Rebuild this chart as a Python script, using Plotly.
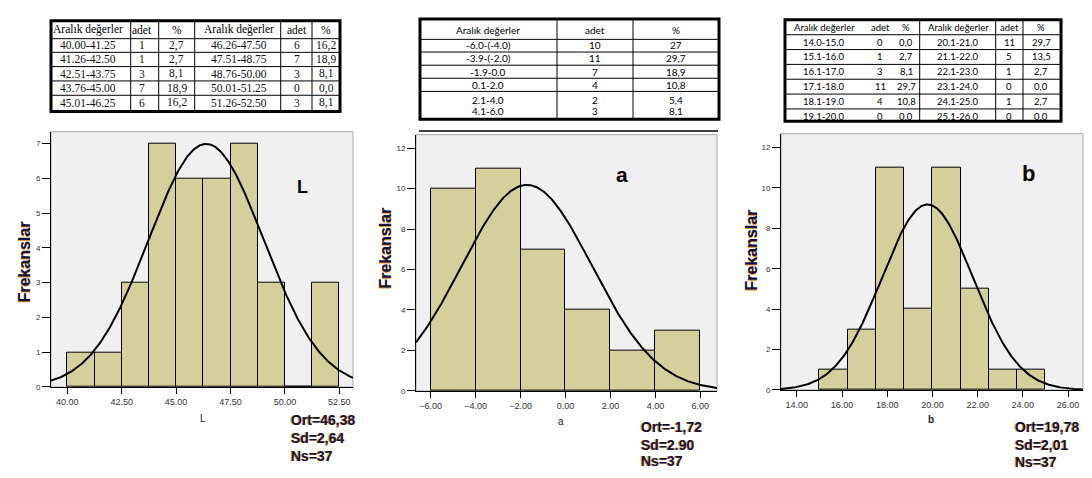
import numpy as np
import plotly.graph_objects as go

W, H = 1092, 478

# ---------------- data ----------------
# Histogram L
L_bin_start = [40.00, 41.25, 42.50, 43.75, 45.00, 46.25, 47.50, 48.75, 50.00, 51.25]
L_counts = [1, 1, 3, 7, 6, 6, 7, 3, 0, 3]
L_bin_width = 1.25
L_mean, L_sd, L_n = 46.38, 2.64, 37
L_ticks = [40.0, 42.5, 45.0, 47.5, 50.0, 52.5]

# Histogram a
a_bin_start = [-6.0, -4.0, -2.0, 0.0, 2.0, 4.0]
a_counts = [10, 11, 7, 4, 2, 3]
a_bin_width = 2.0
a_mean, a_sd, a_n = -1.72, 2.90, 37
a_ticks = [-6.0, -4.0, -2.0, 0.0, 2.0, 4.0, 6.0]

# Histogram b
b_bin_start = [15.00, 16.25, 17.50, 18.75, 20.00, 21.25, 22.50, 23.75]
b_counts = [1, 3, 11, 4, 11, 5, 1, 1]
b_bin_width = 1.25
b_mean, b_sd, b_n = 19.78, 2.01, 37
b_ticks = [14.0, 16.0, 18.0, 20.0, 22.0, 24.0, 26.0]

# Table 1 (L)
t1_header = ["Aralık değerler", "adet", "%", "Aralık değerler", "adet", "%"]
t1_range_1 = ["40.00-41.25", "41.26-42.50", "42.51-43.75", "43.76-45.00", "45.01-46.25"]
t1_adet_1 = ["1", "1", "3", "7", "6"]
t1_pct_1 = ["2,7", "2,7", "8,1", "18,9", "16,2"]
t1_range_2 = ["46.26-47.50", "47.51-48.75", "48.76-50.00", "50.01-51.25", "51.26-52.50"]
t1_adet_2 = ["6", "7", "3", "0", "3"]
t1_pct_2 = ["16,2", "18,9", "8,1", "0,0", "8,1"]

# Table 2 (a)
t2_header = ["Aralık değerler", "adet", "%"]
t2_range = ["-6.0-(-4.0)", "-3.9-(-2.0)", "-1.9-0.0", "0.1-2.0", "2.1-4.0", "4.1-6.0"]
t2_adet = ["10", "11", "7", "4", "2", "3"]
t2_pct = ["27", "29,7", "18,9", "10,8", "5,4", "8,1"]

# Table 3 (b)
t3_header = ["Aralık değerler", "adet", "%", "Aralık değerler", "adet", "%"]
t3_range_1 = ["14.0-15.0", "15.1-16.0", "16.1-17.0", "17.1-18.0", "18.1-19.0", "19.1-20.0"]
t3_adet_1 = ["0", "1", "3", "11", "4", "0"]
t3_pct_1 = ["0,0", "2,7", "8,1", "29,7", "10,8", "0,0"]
t3_range_2 = ["20.1-21.0", "21.1-22.0", "22.1-23.0", "23.1-24.0", "24.1-25.0", "25.1-26.0"]
t3_adet_2 = ["11", "5", "1", "0", "1", "0"]
t3_pct_2 = ["29,7", "13,5", "2,7", "0,0", "2,7", "0,0"]

# ---------------- helpers ----------------
def px(x):
    return x / W

def py(y):
    return 1 - y / H

BAR_COLOR = "#D4CF9B"
NAVY = "#10123a"
SHADOW = "-1px 0px 0px #e8952e"

fig = go.Figure()
annotations = []
shapes = []

def ann(x, y, text, size, family="Liberation Sans", color="#000", weight="normal",
        angle=0, xanchor="center", shadow=None):
    f = dict(size=size, family=family, color=color, weight=weight)
    if shadow:
        f["shadow"] = shadow
    annotations.append(dict(x=px(x), y=py(y), xref="paper", yref="paper", text=text,
                            showarrow=False, font=f, textangle=angle,
                            xanchor=xanchor, yanchor="middle", borderpad=0))

def line(x0, y0, x1, y1, width=1, color="#000"):
    shapes.append(dict(type="line", xref="paper", yref="paper",
                       x0=px(x0), y0=py(y0), x1=px(x1), y1=py(y1),
                       line=dict(color=color, width=width)))

def rect(x0, y0, x1, y1, width=3, color="#000"):
    shapes.append(dict(type="rect", xref="paper", yref="paper",
                       x0=px(x0), y0=py(y0), x1=px(x1), y1=py(y1),
                       line=dict(color=color, width=width)))

# ---------------- histograms ----------------
panels = [
    dict(starts=L_bin_start, counts=L_counts, w=L_bin_width, mean=L_mean, sd=L_sd, n=L_n,
         ticks=L_ticks, xr=[39.25, 53.13], yr=[0, 7.34], dtick=1,
         dom_x=[43, 345], dom_y=[125, 383]),
    dict(starts=a_bin_start, counts=a_counts, w=a_bin_width, mean=a_mean, sd=a_sd, n=a_n,
         ticks=a_ticks, xr=[-6.65, 6.74], yr=[0, 12.66], dtick=2,
         dom_x=[408, 709], dom_y=[128, 387]),
    dict(starts=b_bin_start, counts=b_counts, w=b_bin_width, mean=b_mean, sd=b_sd, n=b_n,
         ticks=b_ticks, xr=[13.30, 26.66], yr=[0, 12.68], dtick=2,
         dom_x=[773, 1075], dom_y=[127, 386]),
]

layout_axes = {}
for i, p in enumerate(panels, start=1):
    xa = "x" if i == 1 else f"x{i}"
    ya = "y" if i == 1 else f"y{i}"
    centers = [s + p["w"] / 2 for s in p["starts"]]
    fig.add_trace(go.Bar(x=centers, y=p["counts"], width=p["w"], xaxis=xa, yaxis=ya,
                         marker=dict(color=BAR_COLOR, line=dict(color="#000", width=1)),
                         showlegend=False, hoverinfo="skip"))
    xs = np.linspace(p["xr"][0], p["xr"][1], 400)
    ys = p["n"] * p["w"] / (p["sd"] * np.sqrt(2 * np.pi)) * np.exp(-0.5 * ((xs - p["mean"]) / p["sd"]) ** 2)
    fig.add_trace(go.Scatter(x=xs, y=ys, mode="lines", xaxis=xa, yaxis=ya,
                             line=dict(color="#000", width=2), showlegend=False, hoverinfo="skip"))
    xkey = "xaxis" if i == 1 else f"xaxis{i}"
    ykey = "yaxis" if i == 1 else f"yaxis{i}"
    layout_axes[xkey] = dict(domain=[px(p["dom_x"][0]), px(p["dom_x"][1])], range=p["xr"],
                             anchor=ya, tickvals=p["ticks"], tickformat=".2f",
                             ticks="outside", ticklen=6, tickcolor="#000", tickwidth=1,
                             showline=True, linecolor="#000", linewidth=1,
                             showgrid=False, zeroline=False,
                             tickfont=dict(size=9, family="Liberation Sans", color="#333"))
    layout_axes[ykey] = dict(domain=[py(p["dom_y"][1]), py(p["dom_y"][0])], range=p["yr"],
                             anchor=xa, dtick=p["dtick"], tick0=0,
                             ticks="outside", ticklen=8, tickcolor="#000", tickwidth=1,
                             showline=True, linecolor="#000", linewidth=1,
                             showgrid=False, zeroline=False,
                             tickfont=dict(size=8, family="Liberation Sans", color="#333"))
    # gray frame of plot area
    shapes.append(dict(type="rect", xref=f"{xa} domain", yref=f"{ya} domain",
                       x0=0, x1=1, y0=0, y1=1, layer="below",
                       line=dict(color="#A8A8A8", width=1)))

# y-axis titles
ann(16, 257, "Frekanslar", 16, color=NAVY, weight="bold", angle=-90, shadow=SHADOW)
ann(377, 243, "Frekanslar", 16, color=NAVY, weight="bold", angle=-90, shadow=SHADOW)
ann(743, 245, "Frekanslar", 16, color=NAVY, weight="bold", angle=-90, shadow=SHADOW)

# x-axis titles
ann(195, 415, "L", 10, color="#222")
ann(553, 418, "a", 10, color="#222")
ann(923, 416, "b", 10, color="#222", weight="bold")

# panel letters
ann(294, 181, "L", 18, color="#000", weight="bold")
ann(614, 168, "a", 21, color="#000", weight="bold")
ann(1020, 167, "b", 22, color="#000", weight="bold")

# statistics
stats = [
    (282, [416, 435, 453], [f"Ort={L_mean:.2f}".replace(".", ","), f"Sd={L_sd:.2f}".replace(".", ","), f"Ns={L_n}"]),
    (632, [423, 442, 458], [f"Ort={a_mean:.2f}".replace(".", ","), f"Sd={a_sd:.2f}", f"Ns={a_n}"]),
    (1006, [423, 442, 459], [f"Ort={b_mean:.2f}".replace(".", ","), f"Sd={b_sd:.2f}".replace(".", ","), f"Ns={b_n}"]),
]
for x0, ys_, texts in stats:
    for yy, tt in zip(ys_, texts):
        ann(x0, yy, tt, 14, color=NAVY, weight="bold", xanchor="left", shadow=SHADOW)

# ---------------- table 1 ----------------
T1_FONT = "Liberation Serif"
t1_cx = [80, 134, 168.5, 231, 288.5, 318]
t1_hy = 22
t1_ry = [37.5, 52, 66.5, 81, 95.5]
for cx, h in zip(t1_cx, t1_header):
    ann(cx, t1_hy, h, 11.5, family=T1_FONT)
for cols, cx in zip([t1_range_1, t1_adet_1, t1_pct_1, t1_range_2, t1_adet_2, t1_pct_2], t1_cx):
    for yy, tt in zip(t1_ry, cols):
        ann(cx, yy, tt, 11.5, family=T1_FONT, color="#111")
for yy in [31, 44.8, 59.2, 73.7, 88.2]:
    line(43, yy, 332, yy, width=1)
for xx in [122.7, 150.7, 186.7, 272.7, 304]:
    line(xx, 13, xx, 104, width=1)
rect(43, 13, 332, 104.5, width=3)

# ---------------- table 2 ----------------
T2_FONT = "Lato"
t2_cx = [480, 587, 668]
t2_hy = 22
t2_ry = [37.5, 51, 64.3, 77.7, 92.5, 104]
for cx, h in zip(t2_cx, t2_header):
    ann(cx, t2_hy, h, 10, family=T2_FONT)
for cols, cx in zip([t2_range, t2_adet, t2_pct], t2_cx):
    for yy, tt in zip(t2_ry, cols):
        ann(cx, yy, tt, 10, family=T2_FONT)
for yy in [31.7, 44.5, 57.8, 71, 84.3]:
    line(412, yy, 711, yy, width=1)
for xx in [549, 625]:
    line(xx, 11, xx, 112, width=1)
rect(412, 11, 711, 112.5, width=3)
line(411, 124.3, 710, 124.3, width=1.5)

# ---------------- table 3 ----------------
T3_FONT = "Lato"
t3_cx = [816, 872, 898, 950, 1001, 1033]
t3_hy = 19.5
t3_ry = [34.5, 49.5, 64.5, 79.5, 94.5, 109.5]
for cx, h in zip(t3_cx, t3_header):
    ann(cx, t3_hy, h, 9.5, family=T3_FONT)
for cols, cx in zip([t3_range_1, t3_adet_1, t3_pct_1, t3_range_2, t3_adet_2, t3_pct_2], t3_cx):
    for yy, tt in zip(t3_ry, cols):
        ann(cx, yy, tt, 9.5, family=T3_FONT)
for yy in [27, 42, 57, 72, 87, 102]:
    line(777, yy, 1053, yy, width=1)
for xx in [911.7, 987.7, 1015]:
    line(xx, 12, xx, 114.5, width=1)
rect(777, 12, 1053, 114.5, width=3)

fig.update_layout(width=W, height=H, margin=dict(l=0, r=0, t=0, b=0),
                  paper_bgcolor="white", plot_bgcolor="#F0F0F0",
                  bargap=0, showlegend=False,
                  annotations=annotations, shapes=shapes, **layout_axes)

fig.write_html("out.html")
